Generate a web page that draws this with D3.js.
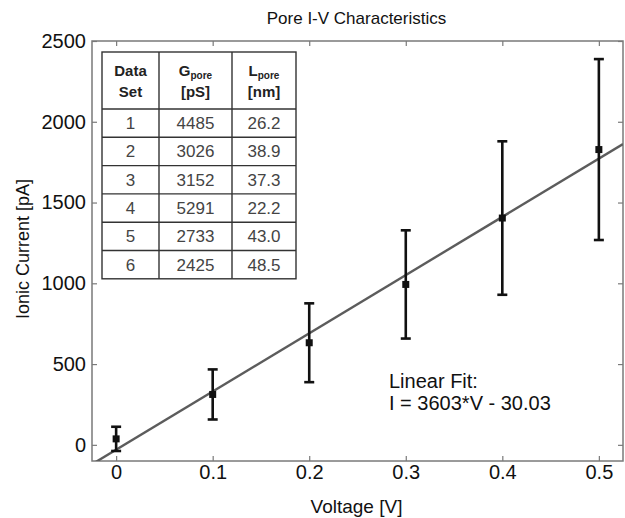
<!DOCTYPE html>
<html>
<head>
<meta charset="utf-8">
<script src="https://cdn.jsdelivr.net/npm/d3@7"></script>
<style>
  html, body { margin: 0; padding: 0; background: #fff; }
  svg { display: block; font-family: "Liberation Sans", Arial, sans-serif; }
</style>
</head>
<body>
<div id="chart"></div>
<script>
// Pore I-V characteristics: mean current per voltage with error bars,
// a linear fit line and a small table of per-set pore values.

const voltages   = [0, 0.1, 0.2, 0.3, 0.4, 0.5];
const currents   = [37, 312, 632, 993, 1404, 1828];
const errors     = [75, 155, 244, 335, 475, 560];

const fitSlope     = 3603;
const fitIntercept = -30.03;

const xTicks = [0, 0.1, 0.2, 0.3, 0.4, 0.5];
const yTicks = [0, 500, 1000, 1500, 2000, 2500];

const tableSets = ["1", "2", "3", "4", "5", "6"];
const tableG    = ["4485", "3026", "3152", "5291", "2733", "2425"];
const tableL    = ["26.2", "38.9", "37.3", "22.2", "43.0", "48.5"];

const W = 625, H = 518;
const m = { top: 41, right: 2, bottom: 57, left: 92 };
const iw = W - m.left - m.right;
const ih = H - m.top - m.bottom;

const x = d3.scaleLinear().domain([-0.025, 0.525]).range([0, iw]);
const y = d3.scaleLinear().domain([-100, 2500]).range([ih, 0]);

const svg = d3.select("#chart").append("svg")
  .attr("width", W).attr("height", H);

svg.append("defs").append("clipPath").attr("id", "plot-clip")
  .append("rect").attr("width", iw).attr("height", ih);

const g = svg.append("g").attr("transform", `translate(${m.left},${m.top})`);

// Axes with inward ticks on all four sides (box style)
const axisColor = "#7a7a7a";
const tickLen = 5;

function styleAxis(sel, showText) {
  sel.select(".domain").remove();
  sel.selectAll(".tick line").attr("stroke", axisColor).attr("stroke-width", 1.2);
  if (showText) {
    sel.selectAll("text")
      .attr("fill", "#111")
      .attr("font-size", "20px")
      .attr("font-family", "Liberation Sans, Arial, sans-serif");
  } else {
    sel.selectAll("text").remove();
  }
}

const xBottom = g.append("g").attr("transform", `translate(0,${ih})`)
  .call(d3.axisBottom(x).tickValues(xTicks).tickFormat(d3.format("~g"))
    .tickSizeInner(-tickLen).tickSizeOuter(0).tickPadding(4));
styleAxis(xBottom, true);

const xTop = g.append("g")
  .call(d3.axisTop(x).tickValues(xTicks).tickSizeInner(-tickLen).tickSizeOuter(0));
styleAxis(xTop, false);

const yLeft = g.append("g")
  .call(d3.axisLeft(y).tickValues(yTicks).tickFormat(d3.format("d"))
    .tickSizeInner(-tickLen).tickSizeOuter(0).tickPadding(6));
styleAxis(yLeft, true);

const yRight = g.append("g").attr("transform", `translate(${iw},0)`)
  .call(d3.axisRight(y).tickValues(yTicks).tickSizeInner(-tickLen).tickSizeOuter(0));
styleAxis(yRight, false);

g.append("rect")
  .attr("width", iw).attr("height", ih)
  .attr("fill", "none")
  .attr("stroke", axisColor)
  .attr("stroke-width", 1.5);

// Linear fit line
const plot = g.append("g").attr("clip-path", "url(#plot-clip)");
const xd = x.domain();
plot.append("line")
  .attr("x1", x(xd[0])).attr("y1", y(fitSlope * xd[0] + fitIntercept))
  .attr("x2", x(xd[1])).attr("y2", y(fitSlope * xd[1] + fitIntercept))
  .attr("stroke", "#5c5c5c")
  .attr("stroke-width", 2.4);

// Error bars
const pts = voltages.map((v, i) => ({ v, c: currents[i], e: errors[i] }));
const capW = 5;

const bars = plot.selectAll(".ebar").data(pts).join("g").attr("class", "ebar")
  .attr("stroke", "#111").attr("stroke-width", 2.6);
bars.append("line")
  .attr("x1", d => x(d.v)).attr("x2", d => x(d.v))
  .attr("y1", d => y(d.c - d.e)).attr("y2", d => y(d.c + d.e));
bars.append("line")
  .attr("x1", d => x(d.v) - capW).attr("x2", d => x(d.v) + capW)
  .attr("y1", d => y(d.c + d.e)).attr("y2", d => y(d.c + d.e));
bars.append("line")
  .attr("x1", d => x(d.v) - capW).attr("x2", d => x(d.v) + capW)
  .attr("y1", d => y(d.c - d.e)).attr("y2", d => y(d.c - d.e));

plot.selectAll(".mark").data(pts).join("rect").attr("class", "mark")
  .attr("x", d => x(d.v) - 3.5).attr("y", d => y(d.c) - 3.5)
  .attr("width", 7).attr("height", 7)
  .attr("fill", "#111");

// Fit annotation
const note = g.append("text")
  .attr("x", 389 - m.left).attr("y", 388 - m.top)
  .attr("font-size", "20px").attr("fill", "#111");
note.append("tspan").text("Linear Fit:");
note.append("tspan").attr("x", 389 - m.left).attr("dy", 22)
  .text(`I = ${fitSlope}*V - ${Math.abs(fitIntercept).toFixed(2)}`);

// Table of pore values
const tbl = svg.append("g").attr("transform", "translate(102,52)");
const colX = [0, 57, 130, 194];
const headH = 57;
const rowH = 28.3;
const tblH = headH + rowH * tableSets.length;
const lineCol = "#333";

tbl.append("rect").attr("width", colX[3]).attr("height", tblH)
  .attr("fill", "#fff").attr("stroke", lineCol).attr("stroke-width", 1.4);
colX.slice(1, 3).forEach(cx => {
  tbl.append("line").attr("x1", cx).attr("x2", cx).attr("y1", 0).attr("y2", tblH)
    .attr("stroke", lineCol).attr("stroke-width", 1.4);
});
tableSets.forEach((s, i) => {
  const yy = headH + i * rowH;
  tbl.append("line").attr("x1", 0).attr("x2", colX[3]).attr("y1", yy).attr("y2", yy)
    .attr("stroke", lineCol).attr("stroke-width", 1.4);
});

const centers = [0, 1, 2].map(i => (colX[i] + colX[i + 1]) / 2);
const head = tbl.append("g").attr("font-size", "15px").attr("font-weight", "bold")
  .attr("fill", "#222").attr("text-anchor", "middle");

head.append("text").attr("x", centers[0]).attr("y", 24).text("Data");
head.append("text").attr("x", centers[0]).attr("y", 45).text("Set");

[["G", "[pS]"], ["L", "[nm]"]].forEach(([sym, unit], k) => {
  const t = head.append("text").attr("x", centers[k + 1]).attr("y", 24);
  t.append("tspan").text(sym);
  t.append("tspan").attr("font-size", "10px").attr("dy", 3).text("pore");
  head.append("text").attr("x", centers[k + 1]).attr("y", 45).text(unit);
});

const cols = [tableSets, tableG, tableL];
cols.forEach((col, k) => {
  tbl.selectAll(`.c${k}`).data(col).join("text").attr("class", `c${k}`)
    .attr("x", centers[k])
    .attr("y", (d, i) => headH + i * rowH + rowH / 2 + 6)
    .attr("text-anchor", "middle")
    .attr("font-size", "17px")
    .attr("fill", "#444")
    .text(d => d);
});

// Title and axis labels
svg.append("text")
  .attr("x", m.left + iw / 2 - 1).attr("y", 24)
  .attr("text-anchor", "middle").attr("font-size", "17px").attr("fill", "#111")
  .text("Pore I-V Characteristics");

svg.append("text")
  .attr("x", m.left + iw / 2 - 1).attr("y", 513)
  .attr("text-anchor", "middle").attr("font-size", "19px").attr("fill", "#111")
  .text("Voltage [V]");

svg.append("text")
  .attr("transform", `translate(29,${m.top + ih / 2 - 2}) rotate(-90)`)
  .attr("text-anchor", "middle").attr("font-size", "18px").attr("fill", "#111")
  .text("Ionic Current [pA]");
</script>
</body>
</html>
